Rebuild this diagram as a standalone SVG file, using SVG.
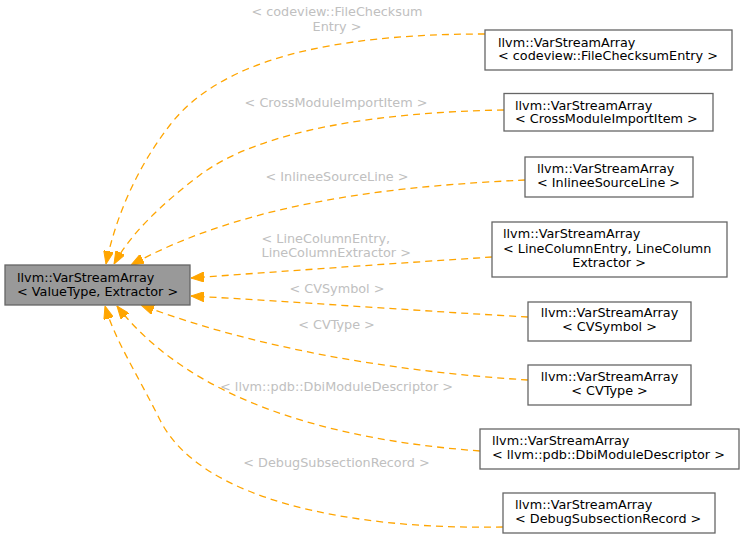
<svg xmlns="http://www.w3.org/2000/svg" width="744" height="539" viewBox="0 0 744 539">
<defs>
<style>
text{font-family:"DejaVu Sans","Liberation Sans",sans-serif;font-size:12.8px;fill:#000}
.lbl{fill:#c0c0c0}
.c{text-anchor:middle}
.box{fill:#fff;stroke:#666;stroke-width:1.3}
.base{fill:#999;stroke:#666;stroke-width:1.3}
.e{fill:none;stroke:#ffa500;stroke-width:1.3;stroke-dasharray:7,5;marker-end:url(#ah)}
</style>
<marker id="ah" markerUnits="userSpaceOnUse" viewBox="0 0 13 10" refX="13" refY="5" markerWidth="13" markerHeight="10" orient="auto">
<path d="M0,0 L13,5 L0,10 z" fill="#ffa500" stroke="#ffa500"/>
</marker>
</defs>
<g id="connectors">
<path class="e" d="M485,34 C330,34 220,60 170,125 C135,170 115,220 106,264"/>
<path class="e" d="M504,110 C380,112 260,130 200,175 C160,205 130,235 114,264"/>
<path class="e" d="M525,180 C400,186 250,200 131,265"/>
<path class="e" d="M492,257 C400,263 300,270 191,278"/>
<path class="e" d="M528,317 C420,311 300,302 191,296"/>
<path class="e" d="M528,380 C400,372 260,350 141,305"/>
<path class="e" d="M480,451 C330,440 190,400 117,306"/>
<path class="e" d="M503,527 C350,530 200,500 160,420 C135,370 115,340 105,306"/>
</g>
<g id="edge-labels">
<text class="lbl c" x="337" y="16">&lt; codeview::FileChecksum</text>
<text class="lbl c" x="337" y="30.5">Entry &gt;</text>
<text class="lbl c" x="336" y="107">&lt; CrossModuleImportItem &gt;</text>
<text class="lbl c" x="337" y="180.5">&lt; InlineeSourceLine &gt;</text>
<text class="lbl" x="261.5" y="243">&lt; LineColumnEntry,</text>
<text class="lbl" x="261.5" y="256.5">LineColumnExtractor &gt;</text>
<text class="lbl c" x="337" y="292.5">&lt; CVSymbol &gt;</text>
<text class="lbl c" x="336.5" y="329">&lt; CVType &gt;</text>
<text class="lbl c" x="336.5" y="390.5">&lt; llvm::pdb::DbiModuleDescriptor &gt;</text>
<text class="lbl c" x="336.5" y="466.5">&lt; DebugSubsectionRecord &gt;</text>
</g>
<g id="base">
<rect class="base" x="5" y="265" width="185" height="40"/>
<text x="17" y="282">llvm::VarStreamArray</text>
<text x="17" y="296">&lt; ValueType, Extractor &gt;</text>
</g>
<g id="n1">
<rect class="box" x="485" y="30" width="247" height="40"/>
<text x="498" y="46.5">llvm::VarStreamArray</text>
<text x="498" y="60">&lt; codeview::FileChecksumEntry &gt;</text>
</g>
<g id="n2">
<rect class="box" x="504" y="93.5" width="209" height="37.5"/>
<text x="515" y="109.5">llvm::VarStreamArray</text>
<text x="515" y="123">&lt; CrossModuleImportItem &gt;</text>
</g>
<g id="n3">
<rect class="box" x="525" y="157" width="168" height="40"/>
<text x="537" y="173">llvm::VarStreamArray</text>
<text x="537" y="186.5">&lt; InlineeSourceLine &gt;</text>
</g>
<g id="n4">
<rect class="box" x="492" y="222" width="235" height="55"/>
<text x="503" y="238">llvm::VarStreamArray</text>
<text x="503" y="252.5">&lt; LineColumnEntry, LineColumn</text>
<text class="c" x="609" y="266.5">Extractor &gt;</text>
</g>
<g id="n5">
<rect class="box" x="528" y="302" width="163" height="39"/>
<text class="c" x="609.5" y="316.5">llvm::VarStreamArray</text>
<text class="c" x="609.5" y="331">&lt; CVSymbol &gt;</text>
</g>
<g id="n6">
<rect class="box" x="528" y="365" width="163" height="40"/>
<text class="c" x="609.5" y="380.5">llvm::VarStreamArray</text>
<text class="c" x="609.5" y="395">&lt; CVType &gt;</text>
</g>
<g id="n7">
<rect class="box" x="480" y="429" width="259" height="40"/>
<text x="492" y="445">llvm::VarStreamArray</text>
<text x="492" y="459">&lt; llvm::pdb::DbiModuleDescriptor &gt;</text>
</g>
<g id="n8">
<rect class="box" x="503" y="493" width="212" height="40"/>
<text x="515" y="509">llvm::VarStreamArray</text>
<text x="515" y="523">&lt; DebugSubsectionRecord &gt;</text>
</g>
</svg>
